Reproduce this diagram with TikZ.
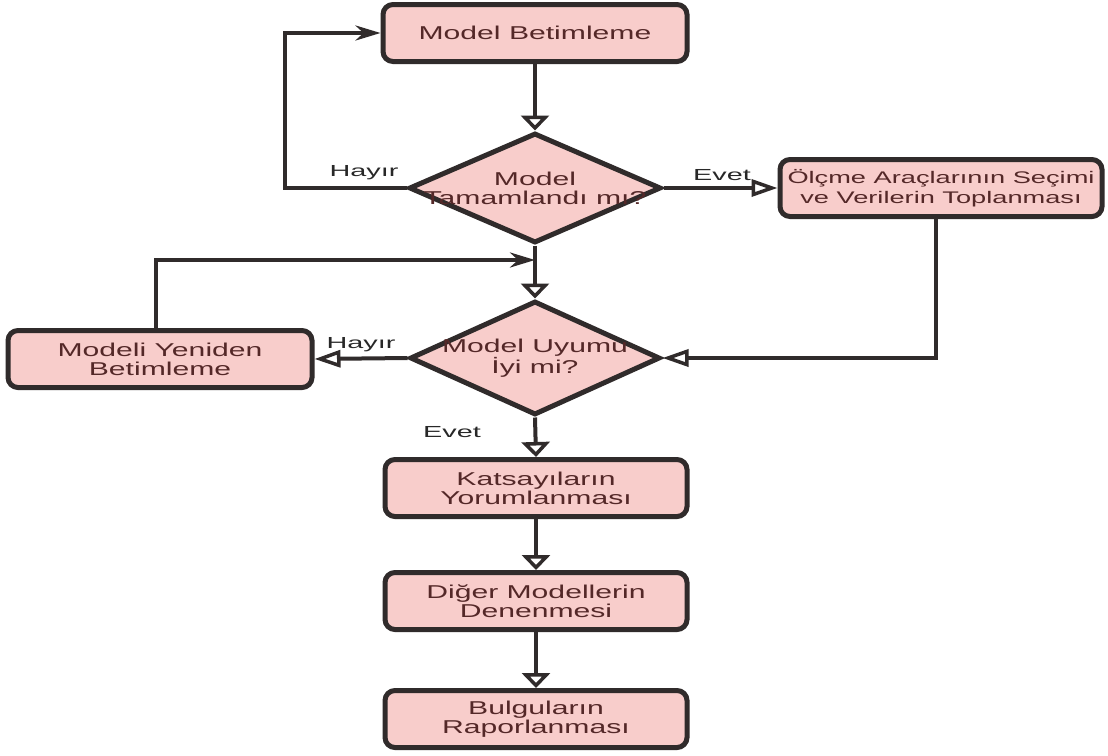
\documentclass[tikz,border=0pt]{standalone}
\usepackage{fontspec}
\newfontfamily\boxfont{Liberation Sans}[FakeStretch=1.62]
\newfontfamily\lblfont{Liberation Sans}[FakeStretch=1.8]
\usetikzlibrary{shapes.geometric,arrows.meta}
\definecolor{boxfill}{RGB}{248,205,203}
\definecolor{edgecol}{RGB}{48,43,43}
\definecolor{txtcol}{RGB}{84,40,40}
\definecolor{lblcol}{RGB}{40,40,40}

\begin{document}
\begin{tikzpicture}[x=1pt,y=-1pt,
  stepbox/.style={draw=edgecol, line width=5pt, fill=boxfill, rounded corners=10pt,
    minimum width=304pt, minimum height=57pt, inner sep=0pt, align=center,
    text=txtcol, font=\boxfont\fontsize{18.6}{18.8}\selectfont},
  decision/.style={diamond, draw=edgecol, line width=5pt, fill=boxfill,
    minimum width=252pt, minimum height=110pt, inner sep=0pt},
  dtext/.style={align=center, text=txtcol, inner sep=0pt,
    font=\boxfont\fontsize{18.6}{18.8}\selectfont},
  flowv/.style={draw=edgecol, line width=4pt,
    -{Triangle[open, length=15pt, width=28pt, line width=3.5pt]}},
  flowh/.style={draw=edgecol, line width=4pt,
    -{Triangle[open, length=26pt, width=17pt, line width=3.5pt]}},
  back/.style={draw=edgecol, line width=4pt, -{Stealth[length=25pt, width=15pt]}},
  lbl/.style={text=lblcol, font=\lblfont\fontsize{16}{18}\selectfont, inner sep=0pt}]

\useasboundingbox[fill=white] (0,0) rectangle (1108,755);

% process steps and decisions
\node[stepbox] (mb) at (535,33) {Model Betimleme};
\node[decision] (d1) at (535,188) {};
\node[dtext] (t1) at (535,188) {Model\\Tamamlandı mı?};
\node[stepbox, minimum width=322pt, font=\boxfont\fontsize{16.8}{19.5}\selectfont]
  (olc) at (941,188) {Ölçme Araçlarının Seçimi\\ve Verilerin Toplanması};
\node[decision, minimum width=250pt, minimum height=114pt] (d2) at (535,358) {};
\node[dtext] (t2) at (535,358) {Model Uyumu\\İyi mi?};
\node[stepbox] (myb) at (160,359) {Modeli Yeniden\\Betimleme};
\node[stepbox, minimum width=302pt] (kat) at (536,488) {Katsayıların\\Yorumlanması};
\node[stepbox, minimum width=302pt] (dig) at (536,601) {Diğer Modellerin\\Denenmesi};
\node[stepbox, minimum width=302pt] (bul) at (536,719) {Bulguların\\Raporlanması};

% merge point above the second decision
\coordinate (j) at (535,260);

% connectors
\draw[flowv] (mb.south) -- (d1.north);
\draw[back] (d1.west) -- (285,188) |- (mb.west);
\draw[flowh] (d1.east) -- (olc.west);
\draw[flowh] (olc.south) ++(-5,0) |- (d2.east);
\draw[flowv] (d1.south) -- (d2.north);
\draw[back] (myb.north) ++(-4,0) |- (j);
\draw[flowh] (d2.west) -- (myb.east);
\draw[flowv] (d2.south) -- (kat.north);
\draw[flowv] (kat.south) -- (dig.north);
\draw[flowv] (dig.south) -- (bul.north);

% branch labels
\node[lbl] (h1) at (364,173) {Hayır};
\node[lbl] (e1) at (722,175) {Evet};
\node[lbl] (h2) at (361,345) {Hayır};
\node[lbl] (e2) at (452,432) {Evet};
\end{tikzpicture}
\end{document}
